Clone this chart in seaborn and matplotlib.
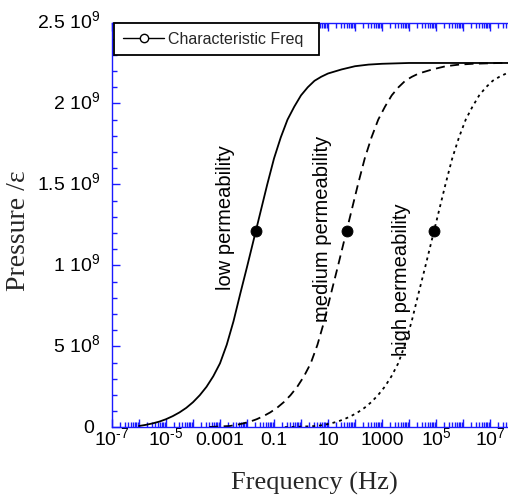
import numpy as np
import matplotlib
matplotlib.use("Agg")
import matplotlib.pyplot as plt
import seaborn as sns
from matplotlib.lines import Line2D
from matplotlib.ticker import FixedLocator, LogLocator, MultipleLocator, NullFormatter
from matplotlib.transforms import ScaledTranslation

# ---- data: log10(frequency / Hz) and pressure / strain (x 1e9) ----
low_logf = [-6.0, -5.75, -5.5, -5.25, -5.0, -4.75, -4.5, -4.25, -4.0, -3.75, -3.5,
            -3.25, -3.0, -2.75, -2.5, -2.25, -2.0, -1.75, -1.5, -1.25, -1.0, -0.75,
            -0.5, -0.25, 0.0, 0.25, 0.5, 0.75, 1.0, 1.5, 2.0, 2.5, 3.0, 4.0, 8.0]
low_p = [0.008, 0.015, 0.024, 0.035, 0.050, 0.069, 0.092, 0.120, 0.155, 0.198, 0.25,
         0.315, 0.395, 0.51, 0.655, 0.825, 0.99, 1.16, 1.33, 1.50, 1.66, 1.79,
         1.90, 1.98, 2.05, 2.10, 2.14, 2.165, 2.185, 2.21, 2.23, 2.24, 2.245, 2.25, 2.25]

medium_logf = [-3.4, -3.0, -2.64, -2.39, -2.14, -1.89, -1.64, -1.39, -1.14, -0.89,
               -0.64, -0.39, -0.14, 0.11, 0.36, 0.61, 0.86, 1.11, 1.36, 1.61, 1.86,
               2.11, 2.36, 2.61, 2.86, 3.11, 3.36, 3.61, 3.86, 4.11, 4.36, 4.86,
               5.36, 5.86, 6.36, 7.36, 8.0]
medium_p = [0.002, 0.005, 0.008, 0.015, 0.024, 0.035, 0.050, 0.069, 0.092, 0.120,
            0.155, 0.198, 0.25, 0.315, 0.395, 0.51, 0.655, 0.825, 0.99, 1.16, 1.33,
            1.50, 1.66, 1.79, 1.90, 1.98, 2.05, 2.10, 2.14, 2.165, 2.185, 2.21,
            2.23, 2.24, 2.245, 2.25, 2.25]

high_logf = [-0.6, 0.0, 0.6, 0.85, 1.1, 1.35, 1.6, 1.85, 2.1, 2.35, 2.6, 2.85, 3.1,
             3.35, 3.6, 3.85, 4.1, 4.35, 4.6, 4.85, 5.1, 5.35, 5.6, 5.85, 6.1, 6.35,
             6.6, 6.85, 7.1, 7.35, 7.6, 8.0]
high_p = [0.001, 0.004, 0.008, 0.015, 0.024, 0.035, 0.050, 0.069, 0.092, 0.120,
          0.155, 0.198, 0.25, 0.315, 0.395, 0.51, 0.655, 0.825, 0.99, 1.16, 1.33,
          1.50, 1.66, 1.79, 1.90, 1.98, 2.05, 2.10, 2.14, 2.165, 2.185, 2.205]

# characteristic frequencies
char_logf = [-1.66, 1.70, 4.94]
char_p = [1.21, 1.21, 1.21]

# curve labels
curve_labels = ["low permeability", "medium permeability", "high permeability"]
label_logf = [-2.81, 0.78, 3.71]
label_p = [1.30, 1.23, 0.92]

# axis ticks
y_ticks = [0, 0.5, 1.0, 1.5, 2.0, 2.5]
y_tick_labels = ["0", r"$\mathregular{5\ 10^{8}}$", r"$\mathregular{1\ 10^{9}}$",
                 r"$\mathregular{1.5\ 10^{9}}$", r"$\mathregular{2\ 10^{9}}$",
                 r"$\mathregular{2.5\ 10^{9}}$"]
x_decades = list(range(-7, 9))
x_tick_labels = {-7: "$\\mathregular{10^{\u20107}}$", -5: "$\\mathregular{10^{\u20105}}$",
                 -3: "0.001", -1: "0.1", 1: "10", 3: "1000",
                 5: r"$\mathregular{10^{5}}$", 7: r"$\mathregular{10^{7}}$"}

# ---- style ----
sns.set_style("ticks")
plt.rcParams["font.family"] = ["Liberation Sans", "DejaVu Sans"]
plt.rcParams["mathtext.fontset"] = "custom"
plt.rcParams["mathtext.rm"] = "Liberation Sans"
plt.rcParams["mathtext.it"] = "Liberation Sans:italic"
plt.rcParams["mathtext.bf"] = "Liberation Sans:bold"

AX_BLUE = "#1a1aff"
W, H = 508, 502
fig = plt.figure(figsize=(W / 100, H / 100), dpi=100)
ax = fig.add_axes([112 / W, (H - 428.3) / H, 405 / W, 404.8 / H])
ax.set_xscale("log")

scale = 1e9
sns.lineplot(x=10 ** np.array(low_logf), y=np.array(low_p) * scale, ax=ax,
             color="black", lw=1.3, errorbar=None, sort=False)
sns.lineplot(x=10 ** np.array(medium_logf), y=np.array(medium_p) * scale, ax=ax,
             color="black", lw=1.3, linestyle=(0, (5, 3)), errorbar=None, sort=False)
sns.lineplot(x=10 ** np.array(high_logf), y=np.array(high_p) * scale, ax=ax,
             color="black", lw=1.3, linestyle=(0, (1.6, 2.2)), errorbar=None, sort=False)
sns.scatterplot(x=10 ** np.array(char_logf), y=np.array(char_p) * scale, ax=ax,
                color="black", edgecolor="black", s=62, zorder=5, legend=False)

for txt, lf, p in zip(curve_labels, label_logf, label_p):
    ax.text(10 ** lf, p * scale, txt, rotation=90, ha="center", va="center",
            fontsize=14.5, color="black")

ax.set_xlim(1e-7, 1e8)
ax.set_ylim(0, 2.5e9)

# ticks
ax.xaxis.set_major_locator(FixedLocator([10.0 ** d for d in x_decades]))
ax.set_xticklabels([x_tick_labels.get(d, "") for d in x_decades])
ax.xaxis.set_minor_locator(LogLocator(base=10, subs=np.arange(2, 10), numticks=100))
ax.xaxis.set_minor_formatter(NullFormatter())
ax.set_yticks([v * scale for v in y_ticks])
ax.set_yticklabels(y_tick_labels)
ax.yaxis.set_minor_locator(MultipleLocator(1e8))

ax.tick_params(which="both", direction="in", top=True, right=True, color=AX_BLUE,
               labelsize=14, labelcolor="black", width=1)
ax.tick_params(which="major", length=6)
ax.tick_params(which="minor", length=3.6)
ax.tick_params(axis="x", which="major", pad=12)
ax.tick_params(axis="y", which="major", pad=8.6)
for s in ax.spines.values():
    s.set_color(AX_BLUE)
    s.set_linewidth(1.0)

ax.set_xlabel("Frequency (Hz)", fontsize=19, family=["Liberation Serif"])
ax.set_ylabel("Pressure /\u03b5", fontsize=20, family=["Liberation Serif"])
ax.xaxis.set_label_coords(0.5, -0.108)
ax.yaxis.set_label_coords(-0.2, 0.487)

# legend
handle = Line2D([], [], color="black", lw=1.0, marker="o", markersize=6,
                markerfacecolor="white", markeredgecolor="black")
leg = ax.legend([handle], ["Characteristic Freq"], loc="upper left",
                bbox_to_anchor=(0.005, 0.9, 0.506, 0.1), mode="expand",
                borderaxespad=0, fontsize=11.5, handlelength=2.6,
                handletextpad=0.2, borderpad=0.55,
                fancybox=False, framealpha=1, edgecolor="black")
leg.get_frame().set_linewidth(1.3)

# align tick labels on their baselines
fig.canvas.draw()
for lab in ax.get_xticklabels():
    lab.set_va("baseline")
for i, lab in enumerate(ax.get_yticklabels()):
    lab.set_va("baseline")
    dx = -0.06 if i == 0 else 0.0   # keep the zero clear of the first frequency label
    lab.set_transform(lab.get_transform() + ScaledTranslation(dx, -0.05, fig.dpi_scale_trans))

fig.savefig("out.png", dpi=100)
